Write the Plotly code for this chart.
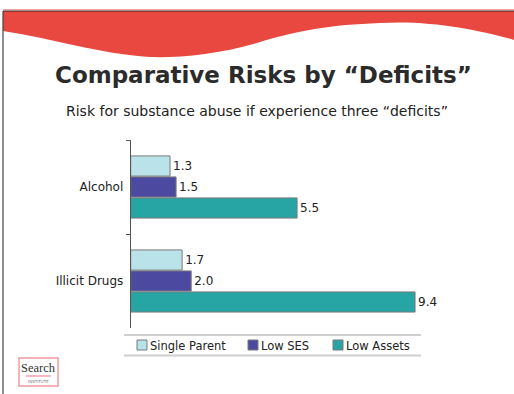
import plotly.graph_objects as go

W, H = 514, 394

categories = ["Alcohol", "Illicit Drugs"]
series_names = ["Single Parent", "Low SES", "Low Assets"]
single_parent = [1.3, 1.7]
low_ses = [1.5, 2.0]
low_assets = [5.5, 9.4]
series_values = [single_parent, low_ses, low_assets]
colors = ["#b9e3e8", "#4b4aa0", "#27a4a4"]

title = "Comparative Risks by “Deficits”"
subtitle = "Risk for substance abuse if experience three “deficits”"


def px(x):
    return x / W


def py(y):
    return 1 - y / H


fig = go.Figure()
for name, vals, col in zip(series_names, series_values, colors):
    fig.add_trace(go.Bar(
        y=categories, x=vals, name=name, orientation="h",
        marker=dict(color=col, line=dict(color="#7a7a7a", width=1)),
        text=vals, texttemplate="%{x:.1f}", textposition="outside",
        textfont=dict(family="DejaVu Sans", size=12, color="#222"),
        cliponaxis=False, showlegend=False,
    ))

# wave path (pixel coords -> paper)
pts = [("M", [(3, 11)]), ("L", [(514, 11)]), ("L", [(514, 40)]),
       ("C", [(480, 30), (430, 20), (380, 23)]),
       ("C", [(330, 25), (300, 30), (260, 42)]),
       ("C", [(220, 54), (180, 58), (150, 57)]),
       ("C", [(100, 54), (50, 38), (3, 31)])]
path = ""
for cmd, cs in pts:
    path += cmd + " " + " ".join(f"{px(a):.5f},{py(b):.5f}" for a, b in cs) + " "
path += "Z"

shapes = [
    dict(type="path", path=path, xref="paper", yref="paper",
         fillcolor="#e8483f", line=dict(width=0), layer="below"),
    dict(type="line", xref="paper", yref="paper", x0=px(3), x1=px(514),
         y0=py(9.5), y1=py(9.5), line=dict(color="#f4a0a0", width=1)),
    dict(type="line", xref="paper", yref="paper", x0=px(3), x1=px(514),
         y0=py(11), y1=py(11), line=dict(color="#3a2020", width=1.2)),
    dict(type="line", xref="paper", yref="paper", x0=px(3), x1=px(3),
         y0=py(11), y1=py(394), line=dict(color="#444", width=1.2)),
    # legend lines
    dict(type="line", xref="paper", yref="paper", x0=px(124), x1=px(421),
         y0=py(335), y1=py(335), line=dict(color="#cfcfcf", width=2)),
    dict(type="line", xref="paper", yref="paper", x0=px(124), x1=px(421),
         y0=py(355.5), y1=py(355.5), line=dict(color="#cfcfcf", width=2)),
    # logo
    dict(type="rect", xref="paper", yref="paper", x0=px(19), x1=px(58),
         y0=py(386), y1=py(358), line=dict(color="#f29aa0", width=1.5),
         fillcolor="white"),
    dict(type="line", xref="paper", yref="paper", x0=px(26), x1=px(51),
         y0=py(376), y1=py(376), line=dict(color="#f3a0a8", width=1.5)),
]

annotations = [
    dict(text="<b>" + title + "</b>", x=px(263), y=py(75), xref="paper", yref="paper",
         xanchor="center", yanchor="middle",
         showarrow=False, font=dict(family="DejaVu Sans", size=23, color="#2b2b2b")),
    dict(text=subtitle, x=px(257), y=py(111), xref="paper", yref="paper",
         xanchor="center", yanchor="middle",
         showarrow=False, font=dict(family="DejaVu Sans", size=14, color="#222")),
    dict(text="Search", x=px(38.5), y=py(368), xref="paper", yref="paper",
         xanchor="center", yanchor="middle",
         showarrow=False, font=dict(family="Liberation Serif", size=12.5, color="#333")),
    dict(text="INSTITUTE", x=px(38.5), y=py(381), xref="paper", yref="paper",
         xanchor="center", yanchor="middle",
         showarrow=False, font=dict(family="DejaVu Sans", size=4, color="#777")),
]

# legend built from series names / colours
legend_x = [137, 248, 333]
for name, col, lx in zip(series_names, colors, legend_x):
    shapes.append(dict(type="rect", xref="paper", yref="paper",
                       x0=px(lx), x1=px(lx + 10), y0=py(350), y1=py(340),
                       fillcolor=col, line=dict(color="#7a7a7a", width=1)))
    annotations.append(dict(text=name, x=px(lx + 11), y=py(345.5), xref="paper",
                            yref="paper", xanchor="left", yanchor="middle",
                            showarrow=False,
                            font=dict(family="DejaVu Sans", size=11.5, color="#222")))

fig.update_layout(
    width=W, height=H, margin=dict(l=0, r=0, t=0, b=0),
    paper_bgcolor="white", plot_bgcolor="white",
    barmode="group", bargap=0.33, bargroupgap=0.04,
    showlegend=False,
    xaxis=dict(domain=[px(130.7), px(433.2)], range=[0, 10], visible=False),
    yaxis=dict(domain=[py(328), py(140)], autorange="reversed", type="category",
               showline=True, linecolor="#555", linewidth=1,
               ticks="outside", ticklen=4, tickcolor="#555", tickson="boundaries",
               tickfont=dict(family="DejaVu Sans", size=12, color="#222"),
               showgrid=False, ticklabelstandoff=4),
    shapes=shapes, annotations=annotations,
)

fig.write_html("out.html", config={"displayModeBar": False},
               post_script="document.body.style.margin='0';document.body.style.overflow='hidden';")
